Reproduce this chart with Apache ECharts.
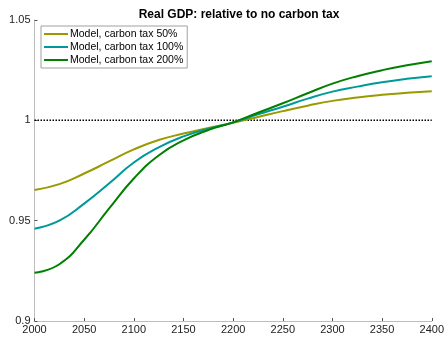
<!DOCTYPE html>
<html>
<head>
<meta charset="utf-8">
<script src="https://cdn.jsdelivr.net/npm/echarts@6/dist/echarts.min.js"></script>
<style>
  html, body { margin: 0; padding: 0; background: #fff; }
  #chart-wrapper { width: 447px; height: 337px; }
</style>
</head>
<body>
<div id="chart-wrapper"></div>
<script>
// years every 25 from 2000 to 2400
const years = [2000, 2025, 2050, 2075, 2100, 2125, 2150, 2175, 2200,
  2225, 2250, 2275, 2300, 2325, 2350, 2375, 2400];

const tax50 = [0.9653, 0.9682, 0.9735, 0.9795, 0.9855, 0.9902, 0.9934, 0.9962, 0.9988,
  1.0017, 1.0046, 1.0073, 1.0097, 1.0114, 1.0127, 1.0137, 1.0145];
const tax100 = [0.9460, 0.9500, 0.9585, 0.9685, 0.9790, 0.9865, 0.9920, 0.9958, 0.9990,
  1.0030, 1.0068, 1.0108, 1.0143, 1.0168, 1.0190, 1.0207, 1.0220];
const tax200 = [0.9240, 0.9283, 0.9405, 0.9560, 0.9710, 0.9825, 0.9900, 0.9952, 0.9990,
  1.0038, 1.0085, 1.0135, 1.0183, 1.0220, 1.0250, 1.0275, 1.0295];

const seriesNames = ["Model, carbon tax 50%", "Model, carbon tax 100%", "Model, carbon tax 200%"];
const seriesColors = ["#999900", "#009999", "#007f00"];
const baseline = 1;

const font = "Liberation Sans, Arial, Helvetica, sans-serif";

const chartDom = document.getElementById("chart-wrapper");
const chart = echarts.init(chartDom, null, { renderer: "canvas" });

const pairs = (vals) => years.map((y, i) => [y, vals[i]]);

const lineSeries = [tax50, tax100, tax200].map((vals, i) => ({
  name: seriesNames[i],
  type: "line",
  data: pairs(vals),
  smooth: 0.5,
  symbol: "none",
  lineStyle: { color: seriesColors[i], width: 2 },
  itemStyle: { color: seriesColors[i] },
  z: 3 + i,
}));

const option = {
  animation: false,
  backgroundColor: "#fff",
  title: {
    text: "Real GDP: relative to no carbon tax",
    left: 234,
    textAlign: "center",
    top: 4,
    textStyle: { fontFamily: font, fontSize: 12, fontWeight: "bold", color: "#000" },
  },
  grid: { left: 34.5, right: 12.5, top: 20, bottom: 16, containLabel: false },
  legend: {
    orient: "vertical",
    left: 41,
    top: 26,
    data: seriesNames,
    icon: "rect",
    itemWidth: 24,
    itemHeight: 2,
    itemGap: 1,
    padding: [2, 4, 2, 3],
    borderColor: "#a0a0a0",
    borderWidth: 1,
    backgroundColor: "#fff",
    textStyle: { fontFamily: font, fontSize: 10.5, lineHeight: 12, color: "#000", padding: [0, 0, 0, -3] },
  },
  xAxis: {
    type: "value",
    min: 2000,
    max: 2400,
    interval: 50,
    axisLine: { show: true, lineStyle: { color: "#bdbdbd", width: 1 } },
    axisTick: { show: true, inside: true, length: 3, lineStyle: { color: "#555" } },
    axisLabel: { fontFamily: font, fontSize: 11, color: "#222", margin: 3, formatter: (v) => String(v) },
    splitLine: { show: false },
  },
  yAxis: {
    type: "value",
    min: 0.9,
    max: 1.05,
    interval: 0.05,
    axisLine: { show: true, lineStyle: { color: "#bdbdbd", width: 1 } },
    axisTick: { show: true, inside: true, length: 3, lineStyle: { color: "#555" } },
    axisLabel: {
      fontFamily: font, fontSize: 11, color: "#222", margin: 4,
      formatter: (v) => String(+v.toFixed(2)),
    },
    splitLine: { show: false },
  },
  series: [
    {
      name: "baseline",
      type: "line",
      data: [[2000, baseline], [2400, baseline]],
      symbol: "none",
      lineStyle: { color: "#000", width: 1.5, type: [1.5, 1.5] },
      z: 2,
    },
    ...lineSeries,
  ],
};

chart.setOption(option);
</script>
</body>
</html>
